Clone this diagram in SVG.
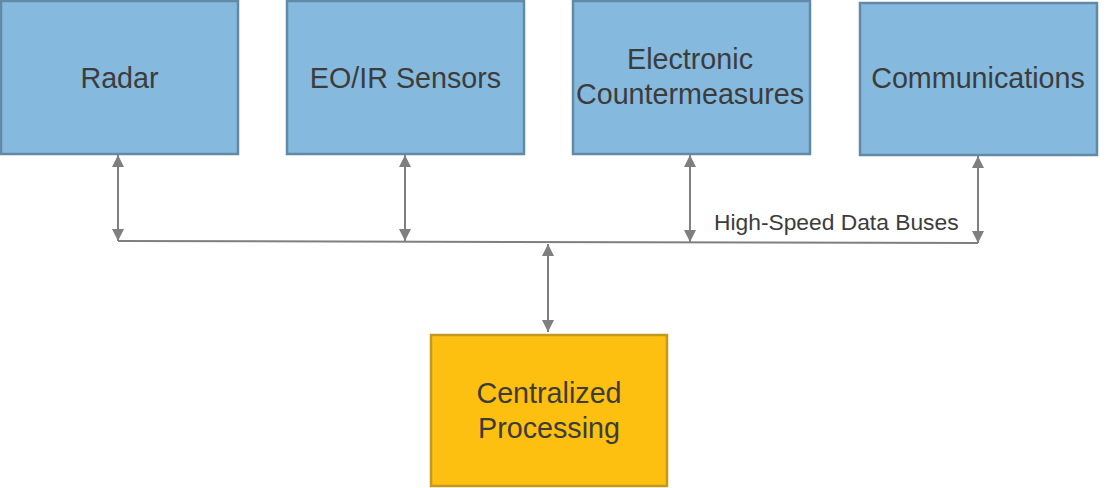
<svg xmlns="http://www.w3.org/2000/svg" width="1105" height="488" viewBox="0 0 1105 488">
<style>
.box{fill:#85bade;stroke:#6289a6;stroke-width:2.5}
.core{fill:#fdc010;stroke:#c49a1e;stroke-width:2.5}
.t{font-family:"Liberation Sans",Arial,sans-serif;font-size:28.7px;fill:#3c3c3c;text-anchor:middle}
.lbl{font-family:"Liberation Sans",Arial,sans-serif;font-size:22.8px;fill:#3c3c3c}
.c{stroke:#7f7f7f;stroke-width:2;fill:none}
</style>
<defs>
<marker id="ah" viewBox="0 0 10 10" refX="10" refY="5" markerWidth="6.5" markerHeight="6" orient="auto-start-reverse" markerUnits="strokeWidth">
<path d="M0,0 L10,5 L0,10 z" fill="#7f7f7f"/>
</marker>
</defs>
<g id="connectors">
<line class="c" x1="118" y1="241" x2="978" y2="243"/>
<line class="c" x1="118" y1="155" x2="118" y2="241" marker-start="url(#ah)" marker-end="url(#ah)"/>
<line class="c" x1="405" y1="155" x2="405" y2="241" marker-start="url(#ah)" marker-end="url(#ah)"/>
<line class="c" x1="690" y1="155" x2="690" y2="242" marker-start="url(#ah)" marker-end="url(#ah)"/>
<line class="c" x1="978" y1="156" x2="978" y2="243" marker-start="url(#ah)" marker-end="url(#ah)"/>
<line class="c" x1="548" y1="244" x2="548" y2="332" marker-start="url(#ah)" marker-end="url(#ah)"/>
<text class="lbl" x="714" y="230">High-Speed Data Buses</text>
</g>
<g id="radar">
<rect class="box" x="1" y="1" width="237" height="153"/>
<text class="t" x="119.5" y="88">Radar</text>
</g>
<g id="eoir">
<rect class="box" x="287" y="1" width="237" height="153"/>
<text class="t" x="405.5" y="88">EO/IR Sensors</text>
</g>
<g id="ecm">
<rect class="box" x="573" y="1" width="237" height="153"/>
<text class="t" x="690" y="69">Electronic</text>
<text class="t" x="690" y="104">Countermeasures</text>
</g>
<g id="comms">
<rect class="box" x="860" y="3" width="237" height="152"/>
<text class="t" x="978" y="88">Communications</text>
</g>
<g id="central">
<rect class="core" x="431" y="335" width="236" height="151"/>
<text class="t" x="549" y="403">Centralized</text>
<text class="t" x="549" y="438">Processing</text>
</g>
</svg>
